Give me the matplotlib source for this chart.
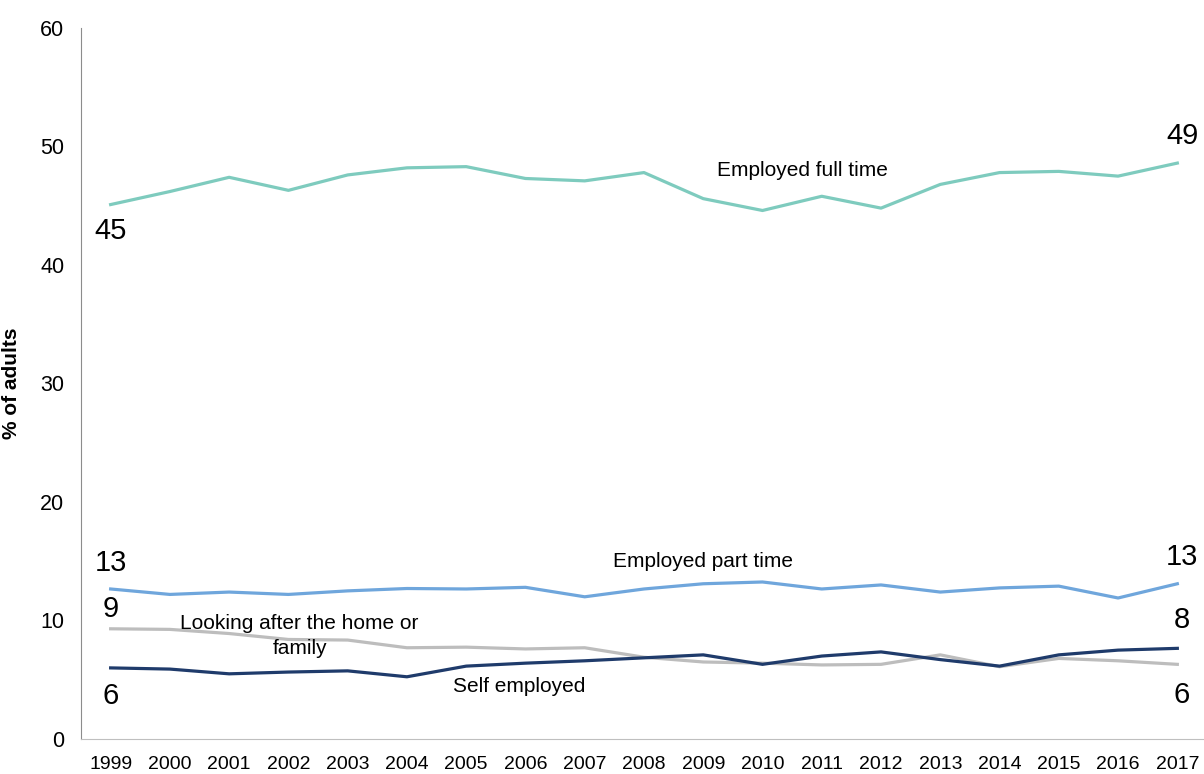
import matplotlib.pyplot as plt

plt.rcParams['font.family'] = ['Liberation Sans', 'DejaVu Sans']

# Survey years and share of adults (%) by employment status
years = list(range(1999, 2018))
full_time = [45.1, 46.2, 47.4, 46.3, 47.6, 48.2, 48.3, 47.3, 47.1, 47.8,
             45.6, 44.6, 45.8, 44.8, 46.8, 47.8, 47.9, 47.5, 48.6]
part_time = [12.66, 12.2, 12.4, 12.2, 12.5, 12.7, 12.66, 12.8, 12.0, 12.66,
             13.1, 13.25, 12.66, 13.0, 12.4, 12.75, 12.9, 11.9, 13.1]
home_family = [9.3, 9.25, 8.9, 8.4, 8.35, 7.7, 7.75, 7.6, 7.7, 6.9,
               6.5, 6.4, 6.25, 6.3, 7.1, 6.1, 6.8, 6.6, 6.3]
self_employed = [6.0, 5.9, 5.5, 5.65, 5.75, 5.25, 6.15, 6.4, 6.6, 6.85,
                 7.1, 6.3, 7.0, 7.35, 6.7, 6.15, 7.1, 7.5, 7.65]

fig = plt.figure(figsize=(12.04, 7.74), dpi=100)
ax = fig.add_axes([81 / 1204, 1 - 739 / 774, 1 - 81 / 1204, (739 - 28) / 774])

lw = 2.3
ax.plot(years, full_time, color='#7ECBBE', lw=lw)
ax.plot(years, part_time, color='#6FA6DC', lw=lw)
ax.plot(years, home_family, color='#BDBDBD', lw=lw)
ax.plot(years, self_employed, color='#1F3B6B', lw=lw)

ax.set_xlim(1998.5, 2017.45)
ax.set_ylim(0, 60)
ax.set_xticks(years)
ax.set_yticks(range(0, 61, 10))
ax.tick_params(axis='both', length=0)
ax.tick_params(axis='y', pad=12, labelsize=15.5)
ax.tick_params(axis='x', pad=12, labelsize=14)

for side in ['top', 'right']:
    ax.spines[side].set_visible(False)
ax.spines['left'].set_color('#8C8C8C')
ax.spines['bottom'].set_color('#BFBFBF')

ax.set_ylabel('% of adults', fontsize=15, fontweight='bold')
ax.yaxis.set_label_coords(-0.053, 0.5)

# End-point values, placed just above or below each line end
big = 21


def end_label(i, series, dy):
    x = years[i] + (0.08 if i == -1 else 0)
    ax.text(x, series[i] + dy, f'{series[i]:.0f}', fontsize=big, ha='center', va='center')


end_label(0, full_time, -2.2)
end_label(-1, full_time, 2.3)
end_label(0, part_time, 2.2)
end_label(-1, part_time, 2.3)
end_label(0, home_family, 1.7)
end_label(0, self_employed, -2.4)
end_label(-1, self_employed, 2.35)
end_label(-1, home_family, -2.6)

# Series names
lab = 15
ax.text(2010.67, 48.0, 'Employed full time', fontsize=lab, ha='center', va='center')
ax.text(2009.0, 15.0, 'Employed part time', fontsize=lab, ha='center', va='center')
ax.text(2002.19, 8.7, 'Looking after the home or\nfamily', fontsize=lab, ha='center', va='center',
        linespacing=1.4)
ax.text(2005.9, 4.4, 'Self employed', fontsize=lab, ha='center', va='center')

fig.savefig('out.png', dpi=100)
